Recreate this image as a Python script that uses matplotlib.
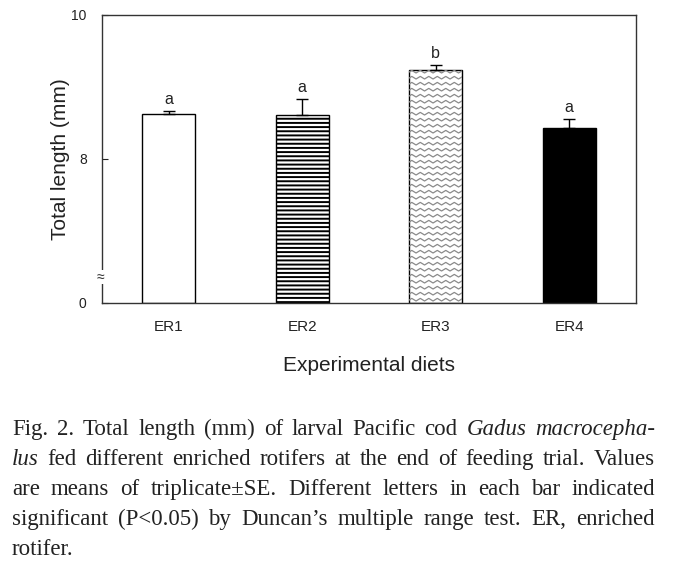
import numpy as np
import matplotlib
matplotlib.use("Agg")
import matplotlib.pyplot as plt
from matplotlib.transforms import IdentityTransform

# ---- data ----
diets = ["ER1", "ER2", "ER3", "ER4"]
length_mm = [8.63, 8.61, 9.24, 8.43]
se_mm = [0.03, 0.22, 0.07, 0.12]
letters = ["a", "a", "b", "a"]

AXIS_FLOOR = 6.0          # broken axis: "0" is drawn where 6 would be
ytick_vals = [AXIS_FLOOR, 8, 10]
ytick_text = ["0", "8", "10"]

caption_lines = [
    [("Fig.", 0), ("2.", 0), ("Total", 0), ("length", 0), ("(mm)", 0), ("of", 0), ("larval", 0),
     ("Pacific", 0), ("cod", 0), ("Gadus", 1), ("macrocepha-", 1)],
    [("lus", 1), ("fed", 0), ("different", 0), ("enriched", 0), ("rotifers", 0), ("at", 0), ("the", 0),
     ("end", 0), ("of", 0), ("feeding", 0), ("trial.", 0), ("Values", 0)],
    [("are", 0), ("means", 0), ("of", 0), ("triplicate\u00b1SE.", 0), ("Different", 0), ("letters", 0),
     ("in", 0), ("each", 0), ("bar", 0), ("indicated", 0)],
    [("significant", 0), ("(P<0.05)", 0), ("by", 0), ("Duncan\u2019s", 0), ("multiple", 0), ("range", 0),
     ("test.", 0), ("ER,", 0), ("enriched", 0)],
    [("rotifer.", 0)],
]

W, H = 676, 577
INK = "#222222"
plt.rcParams["font.family"] = ["Liberation Sans", "DejaVu Sans"]
plt.rcParams["hatch.linewidth"] = 1.4

fig = plt.figure(figsize=(W / 100, H / 100), dpi=100)
ax = fig.add_axes([102 / W, 1 - 303 / H, 534 / W, 288 / H])

x = np.arange(len(diets))
heights = [v - AXIS_FLOOR for v in length_mm]
bars = ax.bar(x, heights, bottom=AXIS_FLOOR, width=0.40, color="white",
              edgecolor="black", linewidth=1.0, zorder=2)
bars[1].set_hatch("----")
bars[3].set_facecolor("black")

ax.errorbar(x, length_mm, yerr=[np.zeros(len(se_mm)), se_mm], fmt="none",
            ecolor="black", elinewidth=1.0, capsize=4, capthick=1.0, zorder=3)

for xi, m, s, lab in zip(x, length_mm, se_mm, letters):
    ax.annotate(lab, (xi, m + s), xytext=(0, 3), textcoords="offset points",
                ha="center", va="bottom", fontsize=11.5, color=INK)

ax.set_xlim(-0.5, 3.5)
ax.set_ylim(AXIS_FLOOR, 10)
ax.set_yticks(ytick_vals)
ax.set_yticklabels(ytick_text)
ax.set_xticks(x)
ax.set_xticklabels(diets)
ax.tick_params(axis="y", direction="in", length=4, pad=11, labelsize=10, colors=INK)
ax.tick_params(axis="x", length=0, pad=12, labelsize=11, labelcolor=INK)
for sp in ax.spines.values():
    sp.set_linewidth(1.0)
    sp.set_color("#333333")

ax.set_ylabel("Total length (mm)", fontsize=15, color=INK, labelpad=1)
ax.set_xlabel("Experimental diets", fontsize=15, color=INK, labelpad=16)

# axis break mark
ax.text(-0.003, 0.09, "\u2248", transform=ax.transAxes, ha="center", va="center",
        fontsize=10, color=INK, bbox=dict(boxstyle="square,pad=0.0", fc="white", ec="none"),
        zorder=5, clip_on=False)

# zigzag fill for ER3, clipped to the bar
fig.canvas.draw()
bb = bars[2].get_window_extent()
xs = np.arange(bb.x0 - 10, bb.x1 + 10, 4.25)
zig = np.where(np.arange(len(xs)) % 2 == 0, 0.0, 2.6)
for y0 in np.arange(bb.y0 - 4, bb.y1 + 4, 6.0):
    ln = ax.plot(xs, y0 + zig, color="#8a8a8a", lw=0.9, transform=IdentityTransform(), zorder=2.5)[0]
    ln.set_clip_path(bars[2])

# justified caption
renderer = fig.canvas.get_renderer()
left_px, right_px = 12, 655
base0, step = 435, 30
cap_kw = dict(fontsize=16.5, family="Liberation Serif", color=INK, va="baseline", ha="left")
for i, line in enumerate(caption_lines):
    yb = 1 - (base0 + i * step) / H
    texts = [fig.text(0, yb, w, style="italic" if it else "normal", **cap_kw) for w, it in line]
    widths = [t.get_window_extent(renderer).width for t in texts]
    if i < len(caption_lines) - 1 and len(texts) > 1:
        gap = (right_px - left_px - sum(widths)) / (len(texts) - 1)
    else:
        gap = 4.0
    xp = left_px
    for t, wd in zip(texts, widths):
        t.set_x(xp / W)
        xp += wd + gap

fig.savefig("out.png", dpi=100)
